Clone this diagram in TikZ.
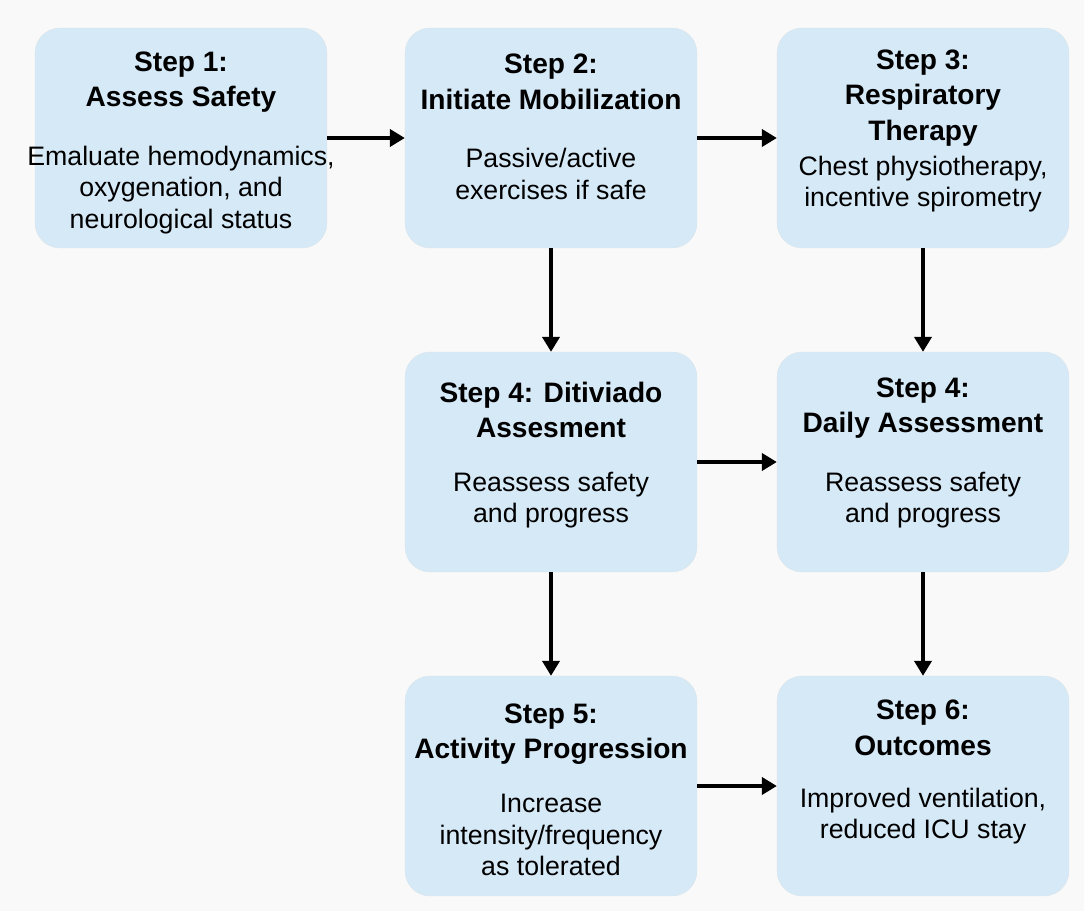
\documentclass[tikz,border=0pt]{standalone}
\usepackage{fontspec}
\setmainfont{Liberation Sans}
\usetikzlibrary{arrows.meta, positioning}
\definecolor{PageWhite}{HTML}{F8F9F8}
\definecolor{StepBlue}{HTML}{D6E9F7}
\definecolor{ArrowBlack}{HTML}{000000}
\tikzset{
    % Box styles
    stepbox/.style={
        rectangle,
        rounded corners=0.5cm,
        draw=StepBlue!90!black!60,
        line width=0.2pt,
        fill=StepBlue,
        minimum width=5.84cm,
        minimum height=4.4cm
    },
    steptitle/.style={
        align=center,
        inner sep=0pt,
        font=\fontsize{16}{20.2}\selectfont\bfseries
    },
    stepbody/.style={
        align=center,
        inner sep=0pt,
        font=\fontsize{15.2}{17.8}\selectfont
    },
    % Arrow style
    flow/.style={
        -{Triangle[length=0.3cm, width=0.34cm]},
        line width=2.6pt,
        draw=ArrowBlack
    }
}
\begin{document}
\begin{tikzpicture}[x=0.02cm, y=-0.02cm]
    \fill[PageWhite] (0,0) rectangle (1084,911);
    \useasboundingbox (0,0) rectangle (1084,911);

    % Top row
    \node[stepbox] (s1) at (181,138) {};
    \node[stepbox] (s2) at (551,138) {};
    \node[stepbox] (s3) at (923,138) {};
    \node[steptitle] (s1t) at (181,82) {Step 1:\\Assess Safety};
    \node[stepbody] (s1b) at (181,190) {Emaluate hemodynamics,\\oxygenation, and\\neurological status};
    \node[steptitle] (s2t) at (551,82) {Step 2:\\Initiate Mobilization};
    \node[stepbody] (s2b) at (551,174) {Passive/active\\exercises if safe};
    \node[steptitle] (s3t) at (923,98) {Step 3:\\Respiratory\\Therapy};
    \node[stepbody] (s3b) at (923,184) {Chest physiotherapy,\\incentive spirometry};

    % Middle row
    \node[stepbox] (s4a) at (551,462) {};
    \node[stepbox] (s4b) at (923,462) {};
    \node[steptitle] (s4at) at (551,410) {Step 4: Ditiviado\\Assesment};
    \node[stepbody] (s4ab) at (551,500) {Reassess safety\\and progress};
    \node[steptitle] (s4bt) at (923,408) {Step 4:\\Daily Assessment};
    \node[stepbody] (s4bb) at (923,500) {Reassess safety\\and progress};

    % Bottom row
    \node[stepbox] (s5) at (551,786) {};
    \node[stepbox] (s6) at (923,786) {};
    \node[steptitle] (s5t) at (551,734) {Step 5:\\Activity Progression};
    \node[stepbody] (s5b) at (551,835) {Increase\\intensity/frequency\\as tolerated};
    \node[steptitle] (s6t) at (923,728) {Step 6:\\Outcomes};
    \node[stepbody] (s6b) at (923,816) {Improved ventilation,\\reduced ICU stay};

    % Connectors
    \draw[flow] (s1) -- (s2);
    \draw[flow] (s2) -- (s3);
    \draw[flow] (s2) -- (s4a);
    \draw[flow] (s3) -- (s4b);
    \draw[flow] (s4a) -- (s4b);
    \draw[flow] (s4a) -- (s5);
    \draw[flow] (s4b) -- (s6);
    \draw[flow] (s5) -- (s6);
\end{tikzpicture}
\end{document}
